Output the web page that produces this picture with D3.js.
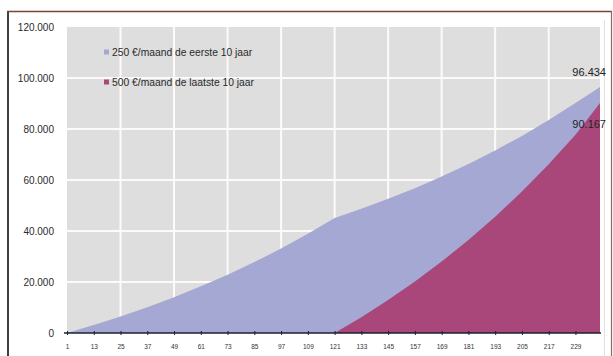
<!DOCTYPE html>
<html>
<head>
<meta charset="utf-8">
<script src="https://cdn.jsdelivr.net/npm/d3@7"></script>
<style>
  html, body { margin: 0; padding: 0; background: #ffffff; }
  svg { display: block; }
</style>
</head>
<body>
<svg id="chart" width="613" height="356"></svg>
<script>
// Months at which the balance is sampled (month 1 .. 240)
const months = [1, 13, 25, 37, 49, 61, 73, 85, 97, 109, 121, 133, 145, 157, 169, 181, 193, 205, 217, 229, 240];
// Balance with 250 €/month during the first 10 years, then left to grow
const firstTenYears = [0, 3100, 6500, 10100, 14000, 18300, 22800, 27800, 33100, 38900, 45100, 48700, 52600, 56800, 61400, 66300, 71600, 77300, 83500, 90200, 96434];
// Balance with 500 €/month during the last 10 years
const lastTenYears = [0, 0, 0, 0, 0, 0, 0, 0, 0, 0, 0, 6200, 12900, 20200, 28000, 36500, 45600, 55500, 66200, 77700, 90167];

const seriesNames = ["250 €/maand de eerste 10 jaar", "500 €/maand de laatste 10 jaar"];
const seriesColors = ["#a5a8d3", "#a9467a"];
const tickMonths = [1, 13, 25, 37, 49, 61, 73, 85, 97, 109, 121, 133, 145, 157, 169, 181, 193, 205, 217, 229];
const gridMonths = [25, 49, 73, 97, 121, 145, 169, 193, 217];
const yTicks = [0, 20000, 40000, 60000, 80000, 100000, 120000];

const svg = d3.select("#chart");
const fmt = v => d3.format(",")(v).replace(/,/g, ".");
const font = "Liberation Sans, Arial, sans-serif";

const x = d3.scaleLinear().domain([1, 240]).range([67, 600]);
const y = d3.scaleLinear().domain([0, 120000]).range([333, 27]);

// outer frame: dark left edge, brown top and right edges
svg.append("line").attr("x1", 8).attr("x2", 8).attr("y1", 11).attr("y2", 356)
  .attr("stroke", "#3e3e40").attr("stroke-width", 2);
svg.append("line").attr("x1", 7).attr("x2", 612).attr("y1", 11.5).attr("y2", 11.5)
  .attr("stroke", "#7a4436").attr("stroke-width", 1.5);
svg.append("line").attr("x1", 611.5).attr("x2", 611.5).attr("y1", 11).attr("y2", 356)
  .attr("stroke", "#8a6a62").attr("stroke-width", 1.2);
svg.append("line").attr("x1", 604.5).attr("x2", 604.5).attr("y1", 20).attr("y2", 356)
  .attr("stroke", "#e4e0e0").attr("stroke-width", 1);

// plot background
svg.append("rect")
  .attr("x", x(1)).attr("y", y(120000))
  .attr("width", x(240) - x(1)).attr("height", y(0) - y(120000))
  .attr("fill", "#dedede");

// grid
svg.append("g").selectAll("line").data(yTicks.filter(v => v > 0 && v < 120000)).join("line")
  .attr("x1", x(1)).attr("x2", x(240))
  .attr("y1", d => y(d)).attr("y2", d => y(d))
  .attr("stroke", "#fffafa").attr("stroke-width", 2);
svg.append("g").selectAll("line").data(gridMonths).join("line")
  .attr("x1", d => x(d)).attr("x2", d => x(d))
  .attr("y1", y(120000)).attr("y2", y(0))
  .attr("stroke", "#fffafa").attr("stroke-width", 2);

// areas
const area = vals => d3.area()
  .x((d, i) => x(months[i]))
  .y0(y(0))
  .y1(d => y(d))(vals);

svg.append("path").attr("d", area(firstTenYears)).attr("fill", seriesColors[0]);
svg.append("path").attr("d", area(lastTenYears)).attr("fill", seriesColors[1]);

// x axis
const xAxis = d3.axisBottom(x).tickValues(tickMonths).tickSize(2.5).tickSizeOuter(0);
const gx = svg.append("g").attr("transform", `translate(0,${y(0)})`).call(xAxis);
gx.select(".domain").attr("stroke", "#1c2030").attr("stroke-width", 1.6)
  .attr("d", `M${x(1) - 3},0H${x(240) + 1}`);
gx.selectAll(".tick line").attr("stroke", "#1c2030").attr("y1", -2).attr("y2", 2);
gx.selectAll(".tick text")
  .attr("y", 14).attr("dy", "0.35em")
  .attr("font-family", font)
  .attr("font-size", 6.5).attr("fill", "#333");

// y labels
svg.append("g").selectAll("text").data(yTicks).join("text")
  .attr("x", 54).attr("y", d => y(d)).attr("dy", "0.35em")
  .attr("text-anchor", "end")
  .attr("font-family", font)
  .attr("font-size", 10).attr("fill", "#2a2a2a")
  .text(d => fmt(d));

// legend
const legend = svg.append("g");
seriesNames.forEach((name, i) => {
  const ly = 52 + i * 30;
  legend.append("rect").attr("x", 104).attr("y", ly - 2.5).attr("width", 5).attr("height", 5)
    .attr("fill", seriesColors[i]);
  legend.append("text").attr("x", 112).attr("y", ly).attr("dy", "0.35em")
    .attr("font-family", font)
    .attr("font-size", 10.3).attr("fill", "#2a2a2a").text(name);
});

// end values
const last = months.length - 1;
svg.append("text").attr("x", 606).attr("y", y(firstTenYears[last]) - 15).attr("dy", "0.35em")
  .attr("text-anchor", "end").attr("font-family", font)
  .attr("font-size", 11).attr("fill", "#222").text(fmt(firstTenYears[last]));
svg.append("text").attr("x", 606).attr("y", y(lastTenYears[last]) + 21).attr("dy", "0.35em")
  .attr("text-anchor", "end").attr("font-family", font)
  .attr("font-size", 11).attr("fill", "#222").text(fmt(lastTenYears[last]));
</script>
</body>
</html>
